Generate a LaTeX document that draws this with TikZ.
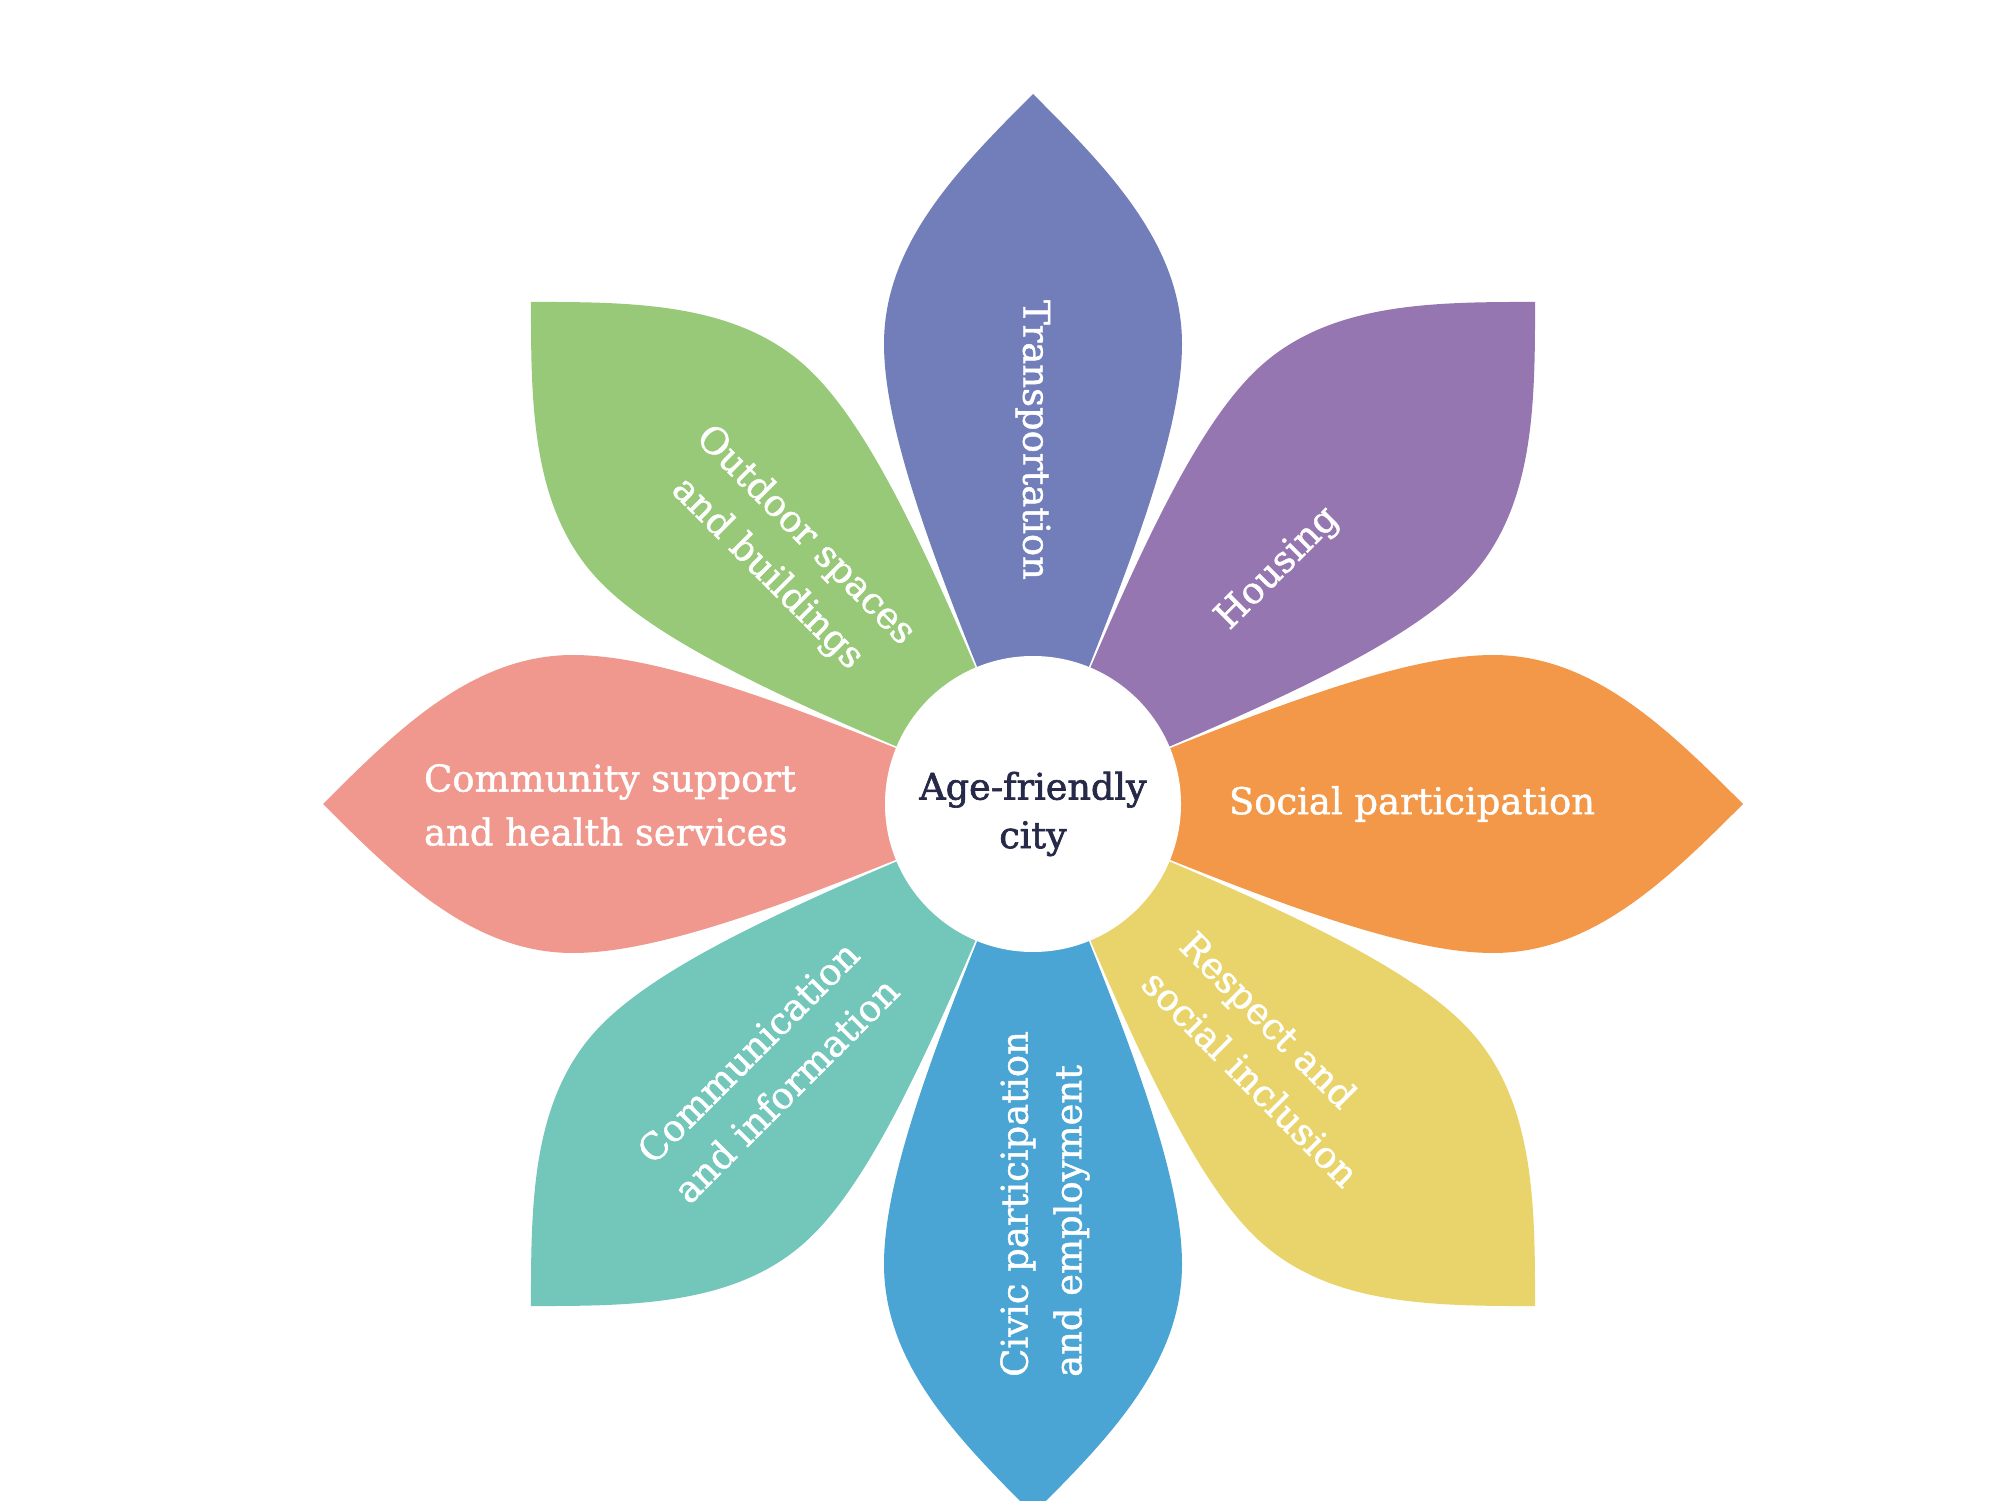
\documentclass[tikz,border=0pt]{standalone}
\usepackage{fontspec}
\setmainfont{DejaVu Serif}
\newfontfamily\labelfont[FakeBold=1.2]{DejaVu Serif}
\newfontfamily\hubfont[FakeBold=1.8]{DejaVu Serif}
\usetikzlibrary{calc}
\definecolor{cTrans}{HTML}{717EB9}
\definecolor{cHouse}{HTML}{9676B1}
\definecolor{cSocial}{HTML}{F39748}
\definecolor{cRespect}{HTML}{E9D46B}
\definecolor{cCivic}{HTML}{4AA4D4}
\definecolor{cComm}{HTML}{72C6BA}
\definecolor{cCommunity}{HTML}{F0978E}
\definecolor{cOutdoor}{HTML}{97C978}
\definecolor{cHubText}{HTML}{262A48}
\tikzset{
  lbl/.style={text=white, inner sep=0pt, font=\labelfont\fontsize{10.5pt}{15.3pt}\selectfont},
  hubtext/.style={text=cHubText, inner sep=0pt, align=center, font=\hubfont\fontsize{10.4pt}{13.8pt}\selectfont},
  hub/.style={circle, fill=white, minimum size=2.96cm, inner sep=0pt},
}
\begin{document}
\begin{tikzpicture}[x=1cm,y=1cm]
\useasboundingbox (0,0) rectangle (20,15);
\clip (0,0) rectangle (20,15);
\fill[white] (0,0) rectangle (20,15);
\coordinate (C) at (10.33,6.96);
\foreach \ang/\col in {0/cTrans,-45/cHouse,-90/cSocial,-135/cRespect,180/cCivic,135/cComm,90/cCommunity,45/cOutdoor}{
  \fill[\col, shift={(C)}, rotate=\ang]
    (0,0) .. controls (-0.82,2.0) and (-1.49,3.6) .. (-1.49,4.6)
    .. controls (-1.49,5.6) and (-0.75,6.35) .. (0,7.1)
    .. controls (0.75,6.35) and (1.49,5.6) .. (1.49,4.6)
    .. controls (1.49,3.6) and (0.82,2.0) .. (0,0) -- cycle;
}
\node[hub] (hub) at (C) {};
\node[hubtext] (hubt) at ($(C)+(0,-0.1)$) {Age-friendly\\city};
\node[lbl, rotate=-90] (trans) at (10.33,10.60) {Transportation};
\node[lbl, rotate=45] (house) at (12.78,9.31) {Housing};
\node[lbl] (social) at (14.12,6.96) {Social participation};
\node[lbl, rotate=-45, align=left] (respect) at (12.70,4.41) {Respect and\\social inclusion};
\node[lbl, rotate=90, align=left] (civic) at (10.45,2.96) {Civic participation\\and employment};
\node[lbl, rotate=45, align=center] (comm) at (7.67,4.29) {Communication\\and information};
\node[lbl, align=left] (community) at (6.10,6.95) {Community support\\and health services};
\node[lbl, rotate=-45, align=center] (outdoor) at (7.86,9.45) {Outdoor spaces\\and buildings};
\end{tikzpicture}
\end{document}
